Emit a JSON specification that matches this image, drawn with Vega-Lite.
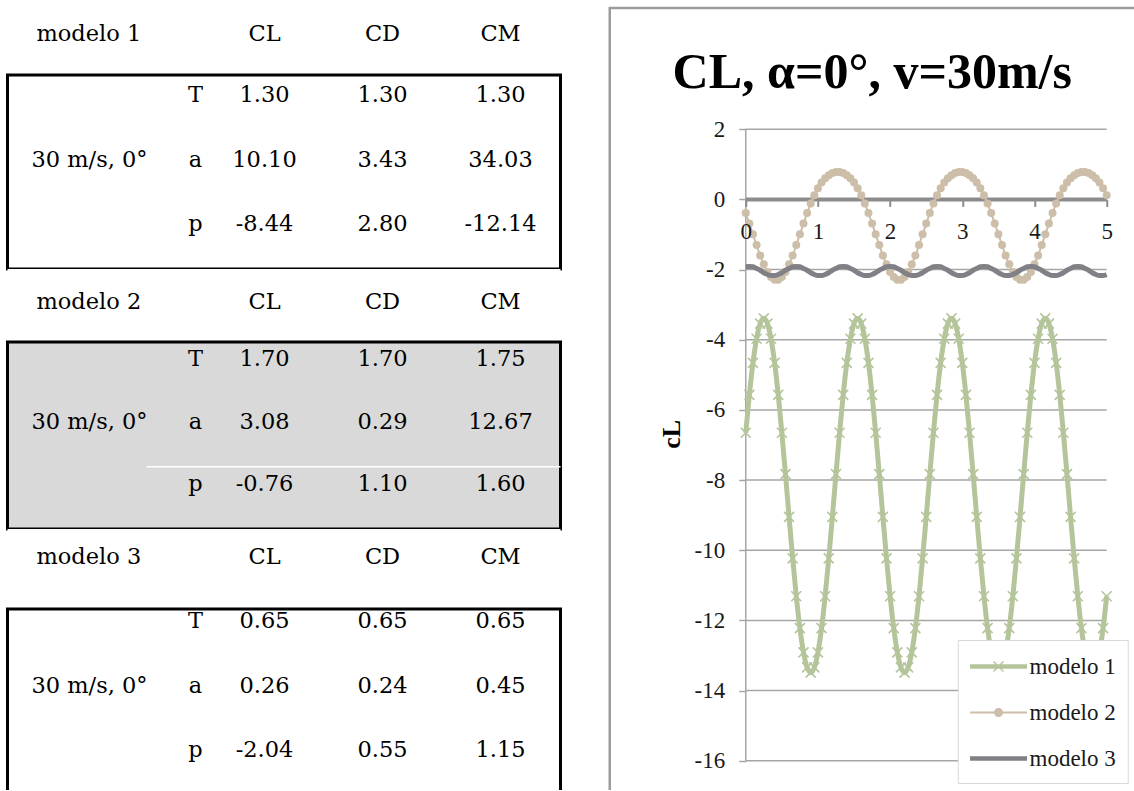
{
"$schema": "https://vega.github.io/schema/vega-lite/v6.json",
"background": "white",
"padding": {"left": 5.5, "top": 6, "right": 0, "bottom": 0},
"usermeta": {"embedOptions": {"actions": false}},
"config": {"view": {"stroke": null}, "text": {"font": "DejaVu Serif", "fontSize": 22.5, "color": "#000000"}},
"datasets": {
"table": [
{"model":"modelo 1","case":"30 m/s, 0°","param":"T","col":"CL","value":"1.30"},
{"model":"modelo 1","case":"30 m/s, 0°","param":"T","col":"CD","value":"1.30"},
{"model":"modelo 1","case":"30 m/s, 0°","param":"T","col":"CM","value":"1.30"},
{"model":"modelo 1","case":"30 m/s, 0°","param":"a","col":"CL","value":"10.10"},
{"model":"modelo 1","case":"30 m/s, 0°","param":"a","col":"CD","value":"3.43"},
{"model":"modelo 1","case":"30 m/s, 0°","param":"a","col":"CM","value":"34.03"},
{"model":"modelo 1","case":"30 m/s, 0°","param":"p","col":"CL","value":"-8.44"},
{"model":"modelo 1","case":"30 m/s, 0°","param":"p","col":"CD","value":"2.80"},
{"model":"modelo 1","case":"30 m/s, 0°","param":"p","col":"CM","value":"-12.14"},
{"model":"modelo 2","case":"30 m/s, 0°","param":"T","col":"CL","value":"1.70"},
{"model":"modelo 2","case":"30 m/s, 0°","param":"T","col":"CD","value":"1.70"},
{"model":"modelo 2","case":"30 m/s, 0°","param":"T","col":"CM","value":"1.75"},
{"model":"modelo 2","case":"30 m/s, 0°","param":"a","col":"CL","value":"3.08"},
{"model":"modelo 2","case":"30 m/s, 0°","param":"a","col":"CD","value":"0.29"},
{"model":"modelo 2","case":"30 m/s, 0°","param":"a","col":"CM","value":"12.67"},
{"model":"modelo 2","case":"30 m/s, 0°","param":"p","col":"CL","value":"-0.76"},
{"model":"modelo 2","case":"30 m/s, 0°","param":"p","col":"CD","value":"1.10"},
{"model":"modelo 2","case":"30 m/s, 0°","param":"p","col":"CM","value":"1.60"},
{"model":"modelo 3","case":"30 m/s, 0°","param":"T","col":"CL","value":"0.65"},
{"model":"modelo 3","case":"30 m/s, 0°","param":"T","col":"CD","value":"0.65"},
{"model":"modelo 3","case":"30 m/s, 0°","param":"T","col":"CM","value":"0.65"},
{"model":"modelo 3","case":"30 m/s, 0°","param":"a","col":"CL","value":"0.26"},
{"model":"modelo 3","case":"30 m/s, 0°","param":"a","col":"CD","value":"0.24"},
{"model":"modelo 3","case":"30 m/s, 0°","param":"a","col":"CM","value":"0.45"},
{"model":"modelo 3","case":"30 m/s, 0°","param":"p","col":"CL","value":"-2.04"},
{"model":"modelo 3","case":"30 m/s, 0°","param":"p","col":"CD","value":"0.55"},
{"model":"modelo 3","case":"30 m/s, 0°","param":"p","col":"CM","value":"1.15"}
],
"grid": [{"level":2},{"level":0},{"level":-2},{"level":-4},{"level":-6},{"level":-8},{"level":-10},{"level":-12},{"level":-14},{"level":-16}],
"series": [
{"t":0,"cL":-6.65,"model":"modelo 1"},{"t":0.05,"cL":-5.57,"model":"modelo 1"},{"t":0.1,"cL":-4.66,"model":"modelo 1"},{"t":0.15,"cL":-3.97,"model":"modelo 1"},{"t":0.2,"cL":-3.54,"model":"modelo 1"},{"t":0.25,"cL":-3.39,"model":"modelo 1"},{"t":0.3,"cL":-3.54,"model":"modelo 1"},{"t":0.35,"cL":-3.97,"model":"modelo 1"},{"t":0.4,"cL":-4.66,"model":"modelo 1"},{"t":0.45,"cL":-5.57,"model":"modelo 1"},
{"t":0.5,"cL":-6.65,"model":"modelo 1"},{"t":0.55,"cL":-7.83,"model":"modelo 1"},{"t":0.6,"cL":-9.05,"model":"modelo 1"},{"t":0.65,"cL":-10.23,"model":"modelo 1"},{"t":0.7,"cL":-11.31,"model":"modelo 1"},{"t":0.75,"cL":-12.22,"model":"modelo 1"},{"t":0.8,"cL":-12.91,"model":"modelo 1"},{"t":0.85,"cL":-13.34,"model":"modelo 1"},{"t":0.9,"cL":-13.49,"model":"modelo 1"},{"t":0.95,"cL":-13.34,"model":"modelo 1"},
{"t":1,"cL":-12.91,"model":"modelo 1"},{"t":1.05,"cL":-12.22,"model":"modelo 1"},{"t":1.1,"cL":-11.31,"model":"modelo 1"},{"t":1.15,"cL":-10.23,"model":"modelo 1"},{"t":1.2,"cL":-9.05,"model":"modelo 1"},{"t":1.25,"cL":-7.83,"model":"modelo 1"},{"t":1.3,"cL":-6.65,"model":"modelo 1"},{"t":1.35,"cL":-5.57,"model":"modelo 1"},{"t":1.4,"cL":-4.66,"model":"modelo 1"},{"t":1.45,"cL":-3.97,"model":"modelo 1"},
{"t":1.5,"cL":-3.54,"model":"modelo 1"},{"t":1.55,"cL":-3.39,"model":"modelo 1"},{"t":1.6,"cL":-3.54,"model":"modelo 1"},{"t":1.65,"cL":-3.97,"model":"modelo 1"},{"t":1.7,"cL":-4.66,"model":"modelo 1"},{"t":1.75,"cL":-5.57,"model":"modelo 1"},{"t":1.8,"cL":-6.65,"model":"modelo 1"},{"t":1.85,"cL":-7.83,"model":"modelo 1"},{"t":1.9,"cL":-9.05,"model":"modelo 1"},{"t":1.95,"cL":-10.23,"model":"modelo 1"},
{"t":2,"cL":-11.31,"model":"modelo 1"},{"t":2.05,"cL":-12.22,"model":"modelo 1"},{"t":2.1,"cL":-12.91,"model":"modelo 1"},{"t":2.15,"cL":-13.34,"model":"modelo 1"},{"t":2.2,"cL":-13.49,"model":"modelo 1"},{"t":2.25,"cL":-13.34,"model":"modelo 1"},{"t":2.3,"cL":-12.91,"model":"modelo 1"},{"t":2.35,"cL":-12.22,"model":"modelo 1"},{"t":2.4,"cL":-11.31,"model":"modelo 1"},{"t":2.45,"cL":-10.23,"model":"modelo 1"},
{"t":2.5,"cL":-9.05,"model":"modelo 1"},{"t":2.55,"cL":-7.83,"model":"modelo 1"},{"t":2.6,"cL":-6.65,"model":"modelo 1"},{"t":2.65,"cL":-5.57,"model":"modelo 1"},{"t":2.7,"cL":-4.66,"model":"modelo 1"},{"t":2.75,"cL":-3.97,"model":"modelo 1"},{"t":2.8,"cL":-3.54,"model":"modelo 1"},{"t":2.85,"cL":-3.39,"model":"modelo 1"},{"t":2.9,"cL":-3.54,"model":"modelo 1"},{"t":2.95,"cL":-3.97,"model":"modelo 1"},
{"t":3,"cL":-4.66,"model":"modelo 1"},{"t":3.05,"cL":-5.57,"model":"modelo 1"},{"t":3.1,"cL":-6.65,"model":"modelo 1"},{"t":3.15,"cL":-7.83,"model":"modelo 1"},{"t":3.2,"cL":-9.05,"model":"modelo 1"},{"t":3.25,"cL":-10.23,"model":"modelo 1"},{"t":3.3,"cL":-11.31,"model":"modelo 1"},{"t":3.35,"cL":-12.22,"model":"modelo 1"},{"t":3.4,"cL":-12.91,"model":"modelo 1"},{"t":3.45,"cL":-13.34,"model":"modelo 1"},
{"t":3.5,"cL":-13.49,"model":"modelo 1"},{"t":3.55,"cL":-13.34,"model":"modelo 1"},{"t":3.6,"cL":-12.91,"model":"modelo 1"},{"t":3.65,"cL":-12.22,"model":"modelo 1"},{"t":3.7,"cL":-11.31,"model":"modelo 1"},{"t":3.75,"cL":-10.23,"model":"modelo 1"},{"t":3.8,"cL":-9.05,"model":"modelo 1"},{"t":3.85,"cL":-7.83,"model":"modelo 1"},{"t":3.9,"cL":-6.65,"model":"modelo 1"},{"t":3.95,"cL":-5.57,"model":"modelo 1"},
{"t":4,"cL":-4.66,"model":"modelo 1"},{"t":4.05,"cL":-3.97,"model":"modelo 1"},{"t":4.1,"cL":-3.54,"model":"modelo 1"},{"t":4.15,"cL":-3.39,"model":"modelo 1"},{"t":4.2,"cL":-3.54,"model":"modelo 1"},{"t":4.25,"cL":-3.97,"model":"modelo 1"},{"t":4.3,"cL":-4.66,"model":"modelo 1"},{"t":4.35,"cL":-5.57,"model":"modelo 1"},{"t":4.4,"cL":-6.65,"model":"modelo 1"},{"t":4.45,"cL":-7.83,"model":"modelo 1"},
{"t":4.5,"cL":-9.05,"model":"modelo 1"},{"t":4.55,"cL":-10.23,"model":"modelo 1"},{"t":4.6,"cL":-11.31,"model":"modelo 1"},{"t":4.65,"cL":-12.22,"model":"modelo 1"},{"t":4.7,"cL":-12.91,"model":"modelo 1"},{"t":4.75,"cL":-13.34,"model":"modelo 1"},{"t":4.8,"cL":-13.49,"model":"modelo 1"},{"t":4.85,"cL":-13.34,"model":"modelo 1"},{"t":4.9,"cL":-12.91,"model":"modelo 1"},{"t":4.95,"cL":-12.22,"model":"modelo 1"},
{"t":5,"cL":-11.31,"model":"modelo 1"},
{"t":0,"cL":-0.39,"model":"modelo 2"},{"t":0.05,"cL":-0.69,"model":"modelo 2"},{"t":0.1,"cL":-0.99,"model":"modelo 2"},{"t":0.15,"cL":-1.3,"model":"modelo 2"},{"t":0.2,"cL":-1.6,"model":"modelo 2"},{"t":0.25,"cL":-1.85,"model":"modelo 2"},{"t":0.3,"cL":-2.07,"model":"modelo 2"},{"t":0.35,"cL":-2.21,"model":"modelo 2"},{"t":0.4,"cL":-2.29,"model":"modelo 2"},{"t":0.45,"cL":-2.29,"model":"modelo 2"},
{"t":0.5,"cL":-2.21,"model":"modelo 2"},{"t":0.55,"cL":-2.07,"model":"modelo 2"},{"t":0.6,"cL":-1.85,"model":"modelo 2"},{"t":0.65,"cL":-1.6,"model":"modelo 2"},{"t":0.7,"cL":-1.3,"model":"modelo 2"},{"t":0.75,"cL":-0.99,"model":"modelo 2"},{"t":0.8,"cL":-0.69,"model":"modelo 2"},{"t":0.85,"cL":-0.39,"model":"modelo 2"},{"t":0.9,"cL":-0.12,"model":"modelo 2"},{"t":0.95,"cL":0.12,"model":"modelo 2"},
{"t":1,"cL":0.32,"model":"modelo 2"},{"t":1.05,"cL":0.48,"model":"modelo 2"},{"t":1.1,"cL":0.6,"model":"modelo 2"},{"t":1.15,"cL":0.69,"model":"modelo 2"},{"t":1.2,"cL":0.75,"model":"modelo 2"},{"t":1.25,"cL":0.78,"model":"modelo 2"},{"t":1.3,"cL":0.78,"model":"modelo 2"},{"t":1.35,"cL":0.75,"model":"modelo 2"},{"t":1.4,"cL":0.69,"model":"modelo 2"},{"t":1.45,"cL":0.6,"model":"modelo 2"},
{"t":1.5,"cL":0.48,"model":"modelo 2"},{"t":1.55,"cL":0.32,"model":"modelo 2"},{"t":1.6,"cL":0.12,"model":"modelo 2"},{"t":1.65,"cL":-0.12,"model":"modelo 2"},{"t":1.7,"cL":-0.39,"model":"modelo 2"},{"t":1.75,"cL":-0.69,"model":"modelo 2"},{"t":1.8,"cL":-0.99,"model":"modelo 2"},{"t":1.85,"cL":-1.3,"model":"modelo 2"},{"t":1.9,"cL":-1.6,"model":"modelo 2"},{"t":1.95,"cL":-1.85,"model":"modelo 2"},
{"t":2,"cL":-2.07,"model":"modelo 2"},{"t":2.05,"cL":-2.21,"model":"modelo 2"},{"t":2.1,"cL":-2.29,"model":"modelo 2"},{"t":2.15,"cL":-2.29,"model":"modelo 2"},{"t":2.2,"cL":-2.21,"model":"modelo 2"},{"t":2.25,"cL":-2.07,"model":"modelo 2"},{"t":2.3,"cL":-1.85,"model":"modelo 2"},{"t":2.35,"cL":-1.6,"model":"modelo 2"},{"t":2.4,"cL":-1.3,"model":"modelo 2"},{"t":2.45,"cL":-0.99,"model":"modelo 2"},
{"t":2.5,"cL":-0.69,"model":"modelo 2"},{"t":2.55,"cL":-0.39,"model":"modelo 2"},{"t":2.6,"cL":-0.12,"model":"modelo 2"},{"t":2.65,"cL":0.12,"model":"modelo 2"},{"t":2.7,"cL":0.32,"model":"modelo 2"},{"t":2.75,"cL":0.48,"model":"modelo 2"},{"t":2.8,"cL":0.6,"model":"modelo 2"},{"t":2.85,"cL":0.69,"model":"modelo 2"},{"t":2.9,"cL":0.75,"model":"modelo 2"},{"t":2.95,"cL":0.78,"model":"modelo 2"},
{"t":3,"cL":0.78,"model":"modelo 2"},{"t":3.05,"cL":0.75,"model":"modelo 2"},{"t":3.1,"cL":0.69,"model":"modelo 2"},{"t":3.15,"cL":0.6,"model":"modelo 2"},{"t":3.2,"cL":0.48,"model":"modelo 2"},{"t":3.25,"cL":0.32,"model":"modelo 2"},{"t":3.3,"cL":0.12,"model":"modelo 2"},{"t":3.35,"cL":-0.12,"model":"modelo 2"},{"t":3.4,"cL":-0.39,"model":"modelo 2"},{"t":3.45,"cL":-0.69,"model":"modelo 2"},
{"t":3.5,"cL":-0.99,"model":"modelo 2"},{"t":3.55,"cL":-1.3,"model":"modelo 2"},{"t":3.6,"cL":-1.6,"model":"modelo 2"},{"t":3.65,"cL":-1.85,"model":"modelo 2"},{"t":3.7,"cL":-2.07,"model":"modelo 2"},{"t":3.75,"cL":-2.21,"model":"modelo 2"},{"t":3.8,"cL":-2.29,"model":"modelo 2"},{"t":3.85,"cL":-2.29,"model":"modelo 2"},{"t":3.9,"cL":-2.21,"model":"modelo 2"},{"t":3.95,"cL":-2.07,"model":"modelo 2"},
{"t":4,"cL":-1.85,"model":"modelo 2"},{"t":4.05,"cL":-1.6,"model":"modelo 2"},{"t":4.1,"cL":-1.3,"model":"modelo 2"},{"t":4.15,"cL":-0.99,"model":"modelo 2"},{"t":4.2,"cL":-0.69,"model":"modelo 2"},{"t":4.25,"cL":-0.39,"model":"modelo 2"},{"t":4.3,"cL":-0.12,"model":"modelo 2"},{"t":4.35,"cL":0.12,"model":"modelo 2"},{"t":4.4,"cL":0.32,"model":"modelo 2"},{"t":4.45,"cL":0.48,"model":"modelo 2"},
{"t":4.5,"cL":0.6,"model":"modelo 2"},{"t":4.55,"cL":0.69,"model":"modelo 2"},{"t":4.6,"cL":0.75,"model":"modelo 2"},{"t":4.65,"cL":0.78,"model":"modelo 2"},{"t":4.7,"cL":0.78,"model":"modelo 2"},{"t":4.75,"cL":0.75,"model":"modelo 2"},{"t":4.8,"cL":0.69,"model":"modelo 2"},{"t":4.85,"cL":0.6,"model":"modelo 2"},{"t":4.9,"cL":0.48,"model":"modelo 2"},{"t":4.95,"cL":0.32,"model":"modelo 2"},
{"t":5,"cL":0.12,"model":"modelo 2"},
{"t":0,"cL":-1.92,"model":"modelo 3"},{"t":0.05,"cL":-1.91,"model":"modelo 3"},{"t":0.1,"cL":-1.92,"model":"modelo 3"},{"t":0.15,"cL":-1.97,"model":"modelo 3"},{"t":0.2,"cL":-2.02,"model":"modelo 3"},{"t":0.25,"cL":-2.09,"model":"modelo 3"},{"t":0.3,"cL":-2.14,"model":"modelo 3"},{"t":0.35,"cL":-2.17,"model":"modelo 3"},{"t":0.4,"cL":-2.17,"model":"modelo 3"},{"t":0.45,"cL":-2.14,"model":"modelo 3"},
{"t":0.5,"cL":-2.09,"model":"modelo 3"},{"t":0.55,"cL":-2.02,"model":"modelo 3"},{"t":0.6,"cL":-1.97,"model":"modelo 3"},{"t":0.65,"cL":-1.92,"model":"modelo 3"},{"t":0.7,"cL":-1.91,"model":"modelo 3"},{"t":0.75,"cL":-1.92,"model":"modelo 3"},{"t":0.8,"cL":-1.97,"model":"modelo 3"},{"t":0.85,"cL":-2.02,"model":"modelo 3"},{"t":0.9,"cL":-2.09,"model":"modelo 3"},{"t":0.95,"cL":-2.14,"model":"modelo 3"},
{"t":1,"cL":-2.17,"model":"modelo 3"},{"t":1.05,"cL":-2.17,"model":"modelo 3"},{"t":1.1,"cL":-2.14,"model":"modelo 3"},{"t":1.15,"cL":-2.09,"model":"modelo 3"},{"t":1.2,"cL":-2.02,"model":"modelo 3"},{"t":1.25,"cL":-1.97,"model":"modelo 3"},{"t":1.3,"cL":-1.92,"model":"modelo 3"},{"t":1.35,"cL":-1.91,"model":"modelo 3"},{"t":1.4,"cL":-1.92,"model":"modelo 3"},{"t":1.45,"cL":-1.97,"model":"modelo 3"},
{"t":1.5,"cL":-2.02,"model":"modelo 3"},{"t":1.55,"cL":-2.09,"model":"modelo 3"},{"t":1.6,"cL":-2.14,"model":"modelo 3"},{"t":1.65,"cL":-2.17,"model":"modelo 3"},{"t":1.7,"cL":-2.17,"model":"modelo 3"},{"t":1.75,"cL":-2.14,"model":"modelo 3"},{"t":1.8,"cL":-2.09,"model":"modelo 3"},{"t":1.85,"cL":-2.02,"model":"modelo 3"},{"t":1.9,"cL":-1.97,"model":"modelo 3"},{"t":1.95,"cL":-1.92,"model":"modelo 3"},
{"t":2,"cL":-1.91,"model":"modelo 3"},{"t":2.05,"cL":-1.92,"model":"modelo 3"},{"t":2.1,"cL":-1.97,"model":"modelo 3"},{"t":2.15,"cL":-2.02,"model":"modelo 3"},{"t":2.2,"cL":-2.09,"model":"modelo 3"},{"t":2.25,"cL":-2.14,"model":"modelo 3"},{"t":2.3,"cL":-2.17,"model":"modelo 3"},{"t":2.35,"cL":-2.17,"model":"modelo 3"},{"t":2.4,"cL":-2.14,"model":"modelo 3"},{"t":2.45,"cL":-2.09,"model":"modelo 3"},
{"t":2.5,"cL":-2.02,"model":"modelo 3"},{"t":2.55,"cL":-1.97,"model":"modelo 3"},{"t":2.6,"cL":-1.92,"model":"modelo 3"},{"t":2.65,"cL":-1.91,"model":"modelo 3"},{"t":2.7,"cL":-1.92,"model":"modelo 3"},{"t":2.75,"cL":-1.97,"model":"modelo 3"},{"t":2.8,"cL":-2.02,"model":"modelo 3"},{"t":2.85,"cL":-2.09,"model":"modelo 3"},{"t":2.9,"cL":-2.14,"model":"modelo 3"},{"t":2.95,"cL":-2.17,"model":"modelo 3"},
{"t":3,"cL":-2.17,"model":"modelo 3"},{"t":3.05,"cL":-2.14,"model":"modelo 3"},{"t":3.1,"cL":-2.09,"model":"modelo 3"},{"t":3.15,"cL":-2.02,"model":"modelo 3"},{"t":3.2,"cL":-1.97,"model":"modelo 3"},{"t":3.25,"cL":-1.92,"model":"modelo 3"},{"t":3.3,"cL":-1.91,"model":"modelo 3"},{"t":3.35,"cL":-1.92,"model":"modelo 3"},{"t":3.4,"cL":-1.97,"model":"modelo 3"},{"t":3.45,"cL":-2.02,"model":"modelo 3"},
{"t":3.5,"cL":-2.09,"model":"modelo 3"},{"t":3.55,"cL":-2.14,"model":"modelo 3"},{"t":3.6,"cL":-2.17,"model":"modelo 3"},{"t":3.65,"cL":-2.17,"model":"modelo 3"},{"t":3.7,"cL":-2.14,"model":"modelo 3"},{"t":3.75,"cL":-2.09,"model":"modelo 3"},{"t":3.8,"cL":-2.02,"model":"modelo 3"},{"t":3.85,"cL":-1.97,"model":"modelo 3"},{"t":3.9,"cL":-1.92,"model":"modelo 3"},{"t":3.95,"cL":-1.91,"model":"modelo 3"},
{"t":4,"cL":-1.92,"model":"modelo 3"},{"t":4.05,"cL":-1.97,"model":"modelo 3"},{"t":4.1,"cL":-2.02,"model":"modelo 3"},{"t":4.15,"cL":-2.09,"model":"modelo 3"},{"t":4.2,"cL":-2.14,"model":"modelo 3"},{"t":4.25,"cL":-2.17,"model":"modelo 3"},{"t":4.3,"cL":-2.17,"model":"modelo 3"},{"t":4.35,"cL":-2.14,"model":"modelo 3"},{"t":4.4,"cL":-2.09,"model":"modelo 3"},{"t":4.45,"cL":-2.02,"model":"modelo 3"},
{"t":4.5,"cL":-1.97,"model":"modelo 3"},{"t":4.55,"cL":-1.92,"model":"modelo 3"},{"t":4.6,"cL":-1.91,"model":"modelo 3"},{"t":4.65,"cL":-1.92,"model":"modelo 3"},{"t":4.7,"cL":-1.97,"model":"modelo 3"},{"t":4.75,"cL":-2.02,"model":"modelo 3"},{"t":4.8,"cL":-2.09,"model":"modelo 3"},{"t":4.85,"cL":-2.14,"model":"modelo 3"},{"t":4.9,"cL":-2.17,"model":"modelo 3"},{"t":4.95,"cL":-2.17,"model":"modelo 3"},
{"t":5,"cL":-2.14,"model":"modelo 3"}
]
},
"hconcat": [
{"vconcat": [
{"width": 553, "height": 67, "view": {"fill": "white"}, "data": {"name": "table"}, "transform": [{"filter": "datum.model == 'modelo 1' && datum.param == 'T'"}],
 "layer": [
 {"mark": {"type": "text", "dy": -7.5}, "encoding": {"x": {"field": "col", "type": "nominal", "scale": {"type": "point", "domain": ["label","param","CL","CD","CM"], "padding": 0.343, "align": 0.259}, "axis": null}, "text": {"field": "col", "type": "nominal"}}},
 {"transform": [{"filter": "datum.col == 'CL'"}], "mark": {"type": "text", "align": "left", "dx": 8, "dy": -7.5}, "encoding": {"x": {"datum": "label", "type": "nominal", "axis": null}, "text": {"field": "model", "type": "nominal"}}}
 ]},
{"width": 553, "height": 194, "view": {"stroke": "#000000", "strokeWidth": 3, "fill": "white"}, "data": {"name": "table"}, "transform": [{"filter": "datum.model == 'modelo 1'"}],
 "layer": [
 {"mark": {"type": "text"}, "encoding": {"x": {"field": "col", "type": "nominal", "scale": {"type": "point", "domain": ["label","param","CL","CD","CM"], "padding": 0.343, "align": 0.259}, "axis": null}, "y": {"field": "param", "type": "nominal", "scale": {"type": "point", "domain": ["T","a","p"], "padding": 0.5, "align": 0.31}, "axis": null}, "text": {"field": "value", "type": "nominal"}}},
 {"transform": [{"filter": "datum.col == 'CL'"}], "mark": {"type": "text", "dx": 49}, "encoding": {"x": {"datum": "param", "type": "nominal", "axis": null}, "y": {"field": "param", "type": "nominal", "axis": null}, "text": {"field": "param", "type": "nominal"}}},
 {"transform": [{"filter": "datum.col == 'CL' && datum.param == 'a'"}], "mark": {"type": "text", "align": "left", "dx": 3}, "encoding": {"x": {"datum": "label", "type": "nominal", "axis": null}, "y": {"field": "param", "type": "nominal", "axis": null}, "text": {"field": "case", "type": "nominal"}}}
 ]},
{"width": 553, "height": 73, "view": {"fill": "white"}, "data": {"name": "table"}, "transform": [{"filter": "datum.model == 'modelo 2' && datum.param == 'T'"}],
 "layer": [
 {"mark": {"type": "text", "dy": -3.5}, "encoding": {"x": {"field": "col", "type": "nominal", "scale": {"type": "point", "domain": ["label","param","CL","CD","CM"], "padding": 0.343, "align": 0.259}, "axis": null}, "text": {"field": "col", "type": "nominal"}}},
 {"transform": [{"filter": "datum.col == 'CL'"}], "mark": {"type": "text", "align": "left", "dx": 8, "dy": -3.5}, "encoding": {"x": {"datum": "label", "type": "nominal", "axis": null}, "text": {"field": "model", "type": "nominal"}}}
 ]},
{"width": 553, "height": 187, "view": {"stroke": "#000000", "strokeWidth": 3, "fill": "#d9d9d9"}, "data": {"name": "table"}, "transform": [{"filter": "datum.model == 'modelo 2'"}],
 "layer": [
 {"transform": [{"filter": "datum.col == 'CL' && datum.param == 'p'"}], "mark": {"type": "rule", "color": "#ffffff", "strokeWidth": 1.5}, "encoding": {"x": {"datum": "param", "type": "nominal", "scale": {"type": "point", "domain": ["label","param","CL","CD","CM"], "padding": 0.343, "align": 0.259}, "axis": null}, "x2": {"value": "width"}, "y": {"datum": "p", "type": "nominal", "bandPosition": 0, "scale": {"type": "band", "domain": ["T","a","p"], "paddingInner": 0, "paddingOuter": 0}, "axis": null}}},
 {"mark": {"type": "text", "dy": -14}, "encoding": {"x": {"field": "col", "type": "nominal", "axis": null}, "y": {"field": "param", "type": "nominal", "axis": null}, "text": {"field": "value", "type": "nominal"}}},
 {"transform": [{"filter": "datum.col == 'CL'"}], "mark": {"type": "text", "dx": 49, "dy": -14}, "encoding": {"x": {"datum": "param", "type": "nominal", "axis": null}, "y": {"field": "param", "type": "nominal", "axis": null}, "text": {"field": "param", "type": "nominal"}}},
 {"transform": [{"filter": "datum.col == 'CL' && datum.param == 'a'"}], "mark": {"type": "text", "align": "left", "dx": 3, "dy": -14}, "encoding": {"x": {"datum": "label", "type": "nominal", "axis": null}, "y": {"field": "param", "type": "nominal", "axis": null}, "text": {"field": "case", "type": "nominal"}}}
 ]},
{"width": 553, "height": 80, "view": {"fill": "white"}, "data": {"name": "table"}, "transform": [{"filter": "datum.model == 'modelo 3' && datum.param == 'T'"}],
 "layer": [
 {"mark": {"type": "text", "dy": -12}, "encoding": {"x": {"field": "col", "type": "nominal", "scale": {"type": "point", "domain": ["label","param","CL","CD","CM"], "padding": 0.343, "align": 0.259}, "axis": null}, "text": {"field": "col", "type": "nominal"}}},
 {"transform": [{"filter": "datum.col == 'CL'"}], "mark": {"type": "text", "align": "left", "dx": 8, "dy": -12}, "encoding": {"x": {"datum": "label", "type": "nominal", "axis": null}, "text": {"field": "model", "type": "nominal"}}}
 ]},
{"width": 553, "height": 181, "view": {"stroke": "#000000", "strokeWidth": 3, "strokeDash": [734, 553, 181], "fill": "white"}, "data": {"name": "table"}, "transform": [{"filter": "datum.model == 'modelo 3'"}],
 "layer": [
 {"mark": {"type": "text"}, "encoding": {"x": {"field": "col", "type": "nominal", "scale": {"type": "point", "domain": ["label","param","CL","CD","CM"], "padding": 0.343, "align": 0.259}, "axis": null}, "y": {"field": "param", "type": "nominal", "scale": {"type": "point", "domain": ["T","a","p"], "padding": 0.4, "align": 0.23}, "axis": null}, "text": {"field": "value", "type": "nominal"}}},
 {"transform": [{"filter": "datum.col == 'CL'"}], "mark": {"type": "text", "dx": 49}, "encoding": {"x": {"datum": "param", "type": "nominal", "axis": null}, "y": {"field": "param", "type": "nominal", "axis": null}, "text": {"field": "param", "type": "nominal"}}},
 {"transform": [{"filter": "datum.col == 'CL' && datum.param == 'a'"}], "mark": {"type": "text", "align": "left", "dx": 3}, "encoding": {"x": {"datum": "label", "type": "nominal", "axis": null}, "y": {"field": "param", "type": "nominal", "axis": null}, "text": {"field": "case", "type": "nominal"}}}
 ]}
], "spacing": 0, "bounds": "flush"},
{"width": 525, "height": 782,
 "view": {"stroke": "#9c9c9c", "strokeWidth": 2.5, "strokeDash": [525, 1307, 782]},
 "title": {"text": "CL, α=0°, v=30m/s", "font": "Liberation Serif", "fontSize": 50, "fontWeight": "bold", "color": "#000000", "anchor": "middle", "offset": -90},
 "data": {"name": "series"},
 "layer": [
 {"transform": [{"filter": "datum.model == 'modelo 1'"}], "mark": {"type": "point", "opacity": 0},
  "encoding": {
   "x": {"field": "t", "type": "quantitative", "scale": {"domain": [-1.884, 5.389], "nice": false, "zero": false}, "axis": {"values": [0,1,2,3,4,5], "labelExpr": "'' + datum.value", "orient": "bottom", "offset": -590.6, "domain": false, "grid": false, "ticks": true, "tickSize": 7, "tickWidth": 2, "tickColor": "#8c8c8c", "labelFont": "Liberation Serif", "labelFontSize": 23, "labelColor": "#1a1a1a", "labelPadding": 14, "labelFlush": false, "labelOverlap": false, "title": null, "zindex": 1}},
   "y": {"field": "cL", "type": "quantitative", "scale": {"domain": [-16.834, 5.456], "nice": false, "zero": false}, "axis": {"values": [2,0,-2,-4,-6,-8,-10,-12,-14,-16], "labelExpr": "'' + datum.value", "orient": "left", "offset": -136, "domain": false, "grid": false, "ticks": true, "tickSize": 7, "tickWidth": 1.5, "tickColor": "#a6a6a6", "labelFont": "Liberation Serif", "labelFontSize": 23, "labelColor": "#1a1a1a", "labelPadding": 14, "labelFlush": false, "labelOverlap": false, "title": "cL", "titleFont": "Liberation Serif", "titleFontSize": 26, "titleFontWeight": "bold", "titleColor": "#000000", "titlePadding": 10, "titleY": 425.75}}
  }},
 {"data": {"name": "grid"}, "mark": {"type": "rule", "color": "#a6a6a6", "strokeWidth": 1.5}, "encoding": {"x": {"datum": 0, "type": "quantitative"}, "x2": {"datum": 5}, "y": {"field": "level", "type": "quantitative"}}},
 {"data": {"values": [{}]}, "mark": {"type": "rule", "color": "#a6a6a6", "strokeWidth": 1.5}, "encoding": {"x": {"datum": 0, "type": "quantitative"}, "y": {"datum": 2, "type": "quantitative"}, "y2": {"datum": -16}}},
 {"data": {"values": [{}]}, "mark": {"type": "rule", "color": "#8c8c8c", "strokeWidth": 4}, "encoding": {"x": {"datum": 0, "type": "quantitative"}, "x2": {"datum": 5}, "y": {"datum": 0, "type": "quantitative"}}},
 {"transform": [{"filter": "datum.model == 'modelo 1'"}], "mark": {"type": "line", "strokeWidth": 5, "interpolate": "monotone"},
  "encoding": {
   "x": {"field": "t", "type": "quantitative"},
   "y": {"field": "cL", "type": "quantitative"},
   "color": {"field": "model", "type": "nominal", "scale": {"domain": ["modelo 1","modelo 2","modelo 3"], "range": ["#b5c59b", "#ccbea8", "#808086"]},
     "legend": {"title": null, "orient": "bottom-right", "offset": 7, "fillColor": "#ffffff", "strokeColor": "#d9d9d9", "padding": 12, "labelFont": "Liberation Serif", "labelFontSize": 23, "labelColor": "#1a1a1a", "labelExpr": "datum.label + '\u2002'", "symbolSize": 812, "symbolOffset": 14.25, "labelOffset": 16.5, "rowPadding": 19, "symbolStrokeWidth": 0,
       "encode": {"symbols": {"update": {"shape": {"signal": "datum.value == 'modelo 1' ? 'M-2,-0.16H2V0.16H-2ZM-0.315,-0.385L0.385,0.315L0.315,0.385L-0.385,-0.315ZM-0.385,0.315L0.315,-0.385L0.385,-0.315L-0.315,0.385Z' : datum.value == 'modelo 2' ? 'M-2,-0.07H2V0.07H-2ZM-0.32,0A0.32,0.32 0 1,1 0.32,0A0.32,0.32 0 1,1 -0.32,0Z' : 'M-2,-0.16H2V0.16H-2Z'"}, "fill": {"scale": "color", "field": "value"}, "stroke": {"value": "transparent"}, "opacity": {"value": 1}}}}}}
  }},
 {"transform": [{"filter": "datum.model == 'modelo 1'"}], "mark": {"type": "point", "shape": "M-1,-1L1,1M-1,1L1,-1", "size": 100, "strokeWidth": 1.6, "filled": false, "opacity": 1},
  "encoding": {"x": {"field": "t", "type": "quantitative"}, "y": {"field": "cL", "type": "quantitative"}, "color": {"field": "model", "type": "nominal"}}},
 {"transform": [{"filter": "datum.model == 'modelo 2'"}], "mark": {"type": "line", "strokeWidth": 2, "interpolate": "monotone"},
  "encoding": {"x": {"field": "t", "type": "quantitative"}, "y": {"field": "cL", "type": "quantitative"}, "color": {"field": "model", "type": "nominal"}}},
 {"transform": [{"filter": "datum.model == 'modelo 2'"}], "mark": {"type": "circle", "size": 64, "opacity": 1},
  "encoding": {"x": {"field": "t", "type": "quantitative"}, "y": {"field": "cL", "type": "quantitative"}, "color": {"field": "model", "type": "nominal"}}},
 {"transform": [{"filter": "datum.model == 'modelo 3'"}], "mark": {"type": "line", "strokeWidth": 5, "interpolate": "monotone"},
  "encoding": {"x": {"field": "t", "type": "quantitative"}, "y": {"field": "cL", "type": "quantitative"}, "color": {"field": "model", "type": "nominal"}}}
 ]}
],
"spacing": 44.25,
"resolve": {"scale": {"color": "independent"}, "legend": {"color": "independent"}}
}
